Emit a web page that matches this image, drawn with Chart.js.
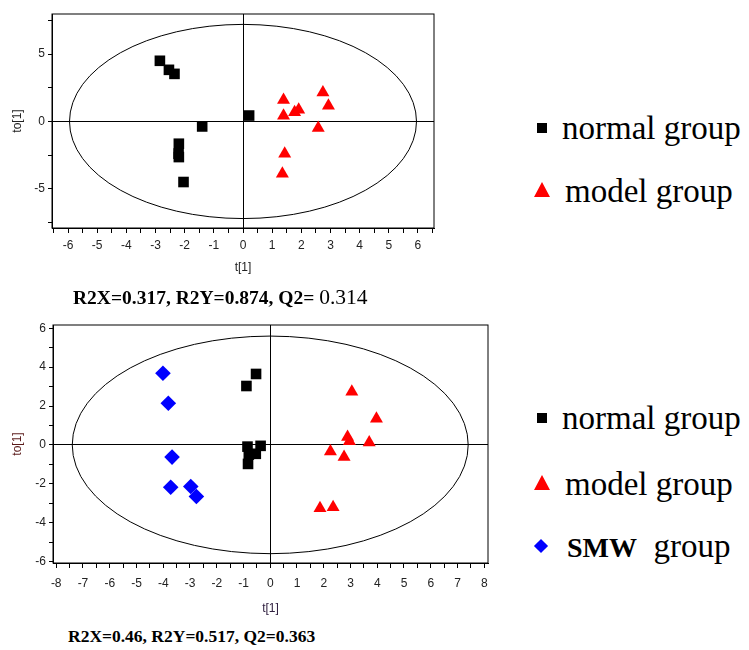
<!DOCTYPE html>
<html>
<head>
<meta charset="utf-8">
<script src="https://cdn.jsdelivr.net/npm/chart.js@4"></script>
<style>
  body { margin: 0; background: #fff; width: 749px; height: 650px; position: relative; overflow: hidden; }
  canvas { position: absolute; left: 0; }
  .cap { position: absolute; font-family: "Liberation Serif", serif; font-weight: bold; color: #000; white-space: pre; line-height: 22px; }
  .leg { position: absolute; font-family: "Liberation Serif", serif; font-size: 33px; color: #000; white-space: pre; line-height: 34px; }
  .mk { position: absolute; }
</style>
</head>
<body>
<canvas id="top" width="450" height="285" style="top:0"></canvas>
<canvas id="bottom" width="500" height="325" style="top:300px"></canvas>
<div class="cap" style="left:73px;top:286px;font-size:19.5px">R2X=0.317, R2Y=0.874, Q2= <span style="font-weight:normal;font-size:21.5px">0.314</span></div>
<div class="cap" style="left:68px;top:625px;font-size:17.5px">R2X=0.46, R2Y=0.517, Q2=0.363</div>
<div id="legends"></div>
<script>
// top panel (normal vs model)
const topNormalX = [-2.85, -2.54, -2.35, -1.40, 0.21, -2.20, -2.21, -2.20, -2.04]
const topNormalY = [4.50, 3.83, 3.53, -0.37, 0.44, -1.65, -2.39, -2.64, -4.49]
const topModelX = [1.39, 1.39, 1.77, 1.91, 2.74, 2.93, 2.58, 1.43, 1.35]
const topModelY = [1.60, 0.42, 0.69, 0.87, 2.15, 1.16, -0.49, -2.39, -3.87]

// bottom panel (normal, model, SMW)
const botNormalX = [-0.53, -0.89, -0.85, -0.36, -0.54, -0.83, -0.80]
const botNormalY = [3.65, 3.03, -0.09, -0.05, -0.46, -0.98, -0.50]
const botModelX = [3.05, 3.97, 2.89, 2.96, 3.70, 2.25, 2.76, 1.86, 2.35]
const botModelY = [2.74, 1.34, 0.40, 0.19, 0.12, -0.34, -0.63, -3.26, -3.21]
const botSmwX = [-4.01, -3.81, -3.67, -3.72, -2.97, -2.76]
const botSmwY = [3.69, 2.14, -0.63, -2.18, -2.14, -2.66]

// tick labels
const topXLabels = [-6, -5, -4, -3, -2, -1, 0, 1, 2, 3, 4, 5, 6]
const topYLabels = [-5, 0, 5]
const botXLabels = [-8, -7, -6, -5, -4, -3, -2, -1, 0, 1, 2, 3, 4, 5, 6, 7, 8]
const botYLabels = [-6, -4, -2, 0, 2, 4, 6]

const labelNormal = "normal group"
const labelModel = "model group"
const labelSmw = "SMW"

function pts(xs, ys){
    let out = []
    for(let i = 0; i < xs.length; i++){
        out.push({x: xs[i], y: ys[i]})
    }
    return out
}

function minorTicks(from, to, step){
    let out = []
    for(let v = from; v <= to + 1e-9; v += step){
        out.push({value: Math.round(v * 100) / 100})
    }
    return out
}

// ellipse + full frame
const ellipsePlugin = {
    id: "ellipse",
    beforeDatasetsDraw(chart, args, opts){
        let {ctx, chartArea, scales} = chart
        let cx = scales.x.getPixelForValue(0)
        let cy = scales.y.getPixelForValue(0)
        let rx = Math.abs(scales.x.getPixelForValue(opts.rx) - cx)
        let ry = Math.abs(scales.y.getPixelForValue(opts.ry) - cy)
        ctx.save()
        ctx.strokeStyle = "#000"
        ctx.lineWidth = 1
        ctx.beginPath()
        ctx.ellipse(cx, cy, rx, ry, 0, 0, Math.PI * 2)
        ctx.stroke()
        ctx.strokeRect(chartArea.left, chartArea.top, chartArea.right - chartArea.left, chartArea.bottom - chartArea.top)
        ctx.restore()
    }
}

function makeChart(id, datasets, cfg){
    let tickFont = {family: "'Liberation Sans', Arial, sans-serif", size: 12}
    return new Chart(document.getElementById(id), {
        type: "scatter",
        data: {datasets: datasets},
        options: {
            responsive: false,
            animation: false,
            layout: {padding: cfg.padding},
            plugins: {
                legend: {display: false},
                tooltip: {enabled: false},
                ellipse: {rx: cfg.rx, ry: cfg.ry}
            },
            scales: {
                x: {
                    min: cfg.xMin, max: cfg.xMax,
                    afterBuildTicks: s => { s.ticks = minorTicks(cfg.xFrom, cfg.xTo, cfg.xStep) },
                    afterFit: s => { s.height = cfg.xHeight },
                    ticks: {
                        autoSkip: false, maxRotation: 0, padding: cfg.xPad, color: "#222", font: tickFont,
                        callback: v => cfg.xLabels.includes(v) ? String(v) : ""
                    },
                    grid: {
                        color: c => (c.tick && c.tick.value === 0) ? "#000" : "rgba(0,0,0,0)",
                        tickColor: "#000", tickLength: 5, lineWidth: 1
                    },
                    border: {display: true, color: "#000"},
                    title: {display: true, text: cfg.xTitle, color: cfg.xTitleColor, font: tickFont, padding: {top: 0, bottom: cfg.xTitlePad}}
                },
                y: {
                    min: cfg.yMin, max: cfg.yMax,
                    afterBuildTicks: s => { s.ticks = minorTicks(cfg.yFrom, cfg.yTo, cfg.yStep) },
                    afterFit: s => { s.width = cfg.yWidth },
                    ticks: {
                        autoSkip: false, padding: 3, color: "#222", font: tickFont,
                        callback: v => cfg.yLabels.includes(v) ? String(v) : ""
                    },
                    grid: {
                        color: c => (c.tick && c.tick.value === 0) ? "#000" : "rgba(0,0,0,0)",
                        tickColor: "#000", tickLength: 4, lineWidth: 1
                    },
                    border: {display: true, color: "#000"},
                    title: {display: true, text: "to[1]", color: cfg.yTitleColor, font: tickFont, padding: {top: cfg.yTitlePad, bottom: 0}}
                }
            }
        },
        plugins: [ellipsePlugin]
    })
}

const normalStyle = {pointStyle: "rect", pointRadius: 7.5, backgroundColor: "#000", borderWidth: 0}
const modelStyle = {pointStyle: "triangle", pointRadius: 7.5, backgroundColor: "#ff0000", borderWidth: 0}
const smwStyle = {pointStyle: "rectRot", pointRadius: 7.8, backgroundColor: "#0000ff", borderWidth: 0}

const topChart = makeChart("top", [
    {label: labelNormal, data: pts(topNormalX, topNormalY), ...normalStyle},
    {label: labelModel, data: pts(topModelX, topModelY), ...modelStyle}
], {
    padding: {left: 0, right: 16, top: 14, bottom: 0},
    xMin: -6.55, xMax: 6.55, xFrom: -6.5, xTo: 6.5, xStep: 0.5, xLabels: topXLabels,
    yMin: -7.9, yMax: 7.97, yFrom: -7.5, yTo: 7.5, yStep: 2.5, yLabels: topYLabels,
    xHeight: 57, yWidth: 52, xPad: 5, xTitle: "t[1]", xTitlePad: 10, yTitlePad: 10,
    xTitleColor: "#222", yTitleColor: "#222",
    rx: 5.95, ry: 7.2
})

const bottomChart = makeChart("bottom", [
    {label: labelNormal, data: pts(botNormalX, botNormalY), ...normalStyle},
    {label: labelModel, data: pts(botModelX, botModelY), ...modelStyle},
    {label: labelSmw, data: pts(botSmwX, botSmwY), ...smwStyle}
], {
    padding: {left: 0, right: 12, top: 25, bottom: 0},
    xMin: -8.12, xMax: 8.14, xFrom: -8, xTo: 8, xStep: 0.5, xLabels: botXLabels,
    yMin: -6.08, yMax: 6.17, yFrom: -6, yTo: 6, yStep: 1, yLabels: botYLabels,
    xHeight: 62, yWidth: 53, xPad: 8, xTitle: "t[1]", xTitlePad: 9, yTitlePad: 10,
    xTitleColor: "#302040", yTitleColor: "#5a1a1a",
    rx: 7.4, ry: 5.6
})

// legends built from the datasets
function markerHtml(ds, cx, cy){
    let c = ds.backgroundColor
    if(ds.pointStyle == "rect"){
        return `<div class="mk" style="left:${cx - 5}px;top:${cy - 5}px;width:10px;height:10px;background:${c}"></div>`
    }
    if(ds.pointStyle == "triangle"){
        return `<div class="mk" style="left:${cx - 8}px;top:${cy - 9}px;width:0;height:0;border-left:8px solid transparent;border-right:8px solid transparent;border-bottom:15px solid ${c}"></div>`
    }
    return `<div class="mk" style="left:${cx - 5}px;top:${cy - 5}px;width:10px;height:10px;background:${c};transform:rotate(45deg)"></div>`
}

function buildLegend(chart, rows){
    let html = ""
    chart.data.datasets.forEach((ds, i) => {
        let r = rows[i]
        html += markerHtml(ds, r.mx, r.y)
        if(ds.label == labelSmw){
            html += `<div class="leg" style="left:${r.tx}px;top:${r.y - 17}px"><span style="font-weight:bold;font-size:28px">${ds.label}</span>  group</div>`
        } else {
            html += `<div class="leg" style="left:${r.tx}px;top:${r.y - 17}px">${ds.label}</div>`
        }
    })
    document.getElementById("legends").innerHTML += html
}

buildLegend(topChart, [{mx: 542, tx: 562, y: 128}, {mx: 542, tx: 565, y: 191}])
buildLegend(bottomChart, [{mx: 542, tx: 562, y: 418}, {mx: 542, tx: 565, y: 484}, {mx: 541, tx: 567, y: 546}])
</script>
</body>
</html>
